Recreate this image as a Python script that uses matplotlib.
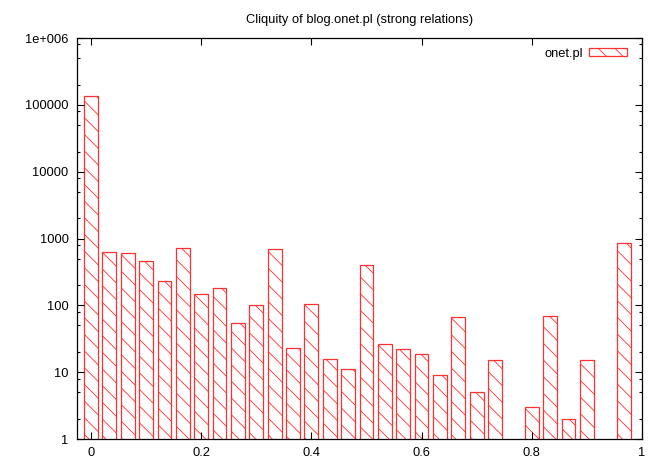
import matplotlib
matplotlib.use("Agg")
import matplotlib.pyplot as plt
import numpy as np

# cliquity bins (step 1/30) and counts, 0 = empty bin
bins = np.arange(30) / 30.0
counts = [135000, 620, 610, 455, 230, 715, 148, 182, 54, 100,
          700, 23, 105, 16, 11, 405, 26, 22, 19, 9,
          66, 5, 15, 0, 3, 70, 2, 15, 0, 870]
ytick_vals = [1, 10, 100, 1000, 10000, 100000, 1000000]
ytick_labels = ["1", "10", "100", "1000", "10000", "100000", "1e+006"]
xtick_vals = [0, 0.2, 0.4, 0.6, 0.8, 1.0]
xtick_labels = ["0", "0.2", "0.4", "0.6", "0.8", "1"]

plt.rcParams["hatch.linewidth"] = 0.6
plt.rcParams["font.family"] = "Liberation Sans"
fs = 9.3

fig = plt.figure(figsize=(6.64, 4.65), dpi=100)
ax = fig.add_axes([77 / 664, 1 - 439 / 465, 565 / 664, 401 / 465])

heights = np.array(counts, dtype=float)
mask = heights > 0
ax.bar(bins[mask], heights[mask], width=0.025, bottom=0, color="none",
       edgecolor="#ff3030", linewidth=0.9, hatch="\\\\", label="onet.pl")

ax.set_yscale("log")
ax.set_ylim(1, 1e6)
ax.set_xlim(-0.0253, 1.0)
ax.set_yticks(ytick_vals)
ax.set_yticklabels(ytick_labels)
ax.set_xticks(xtick_vals)
ax.set_xticklabels(xtick_labels)
ax.yaxis.set_minor_locator(matplotlib.ticker.LogLocator(base=10, subs=(2, 5, 8)))
ax.yaxis.set_minor_formatter(matplotlib.ticker.NullFormatter())
ax.tick_params(which="both", direction="in", top=True, right=True, labelsize=fs)
ax.tick_params(which="major", length=5, width=0.8, pad=6)
ax.tick_params(which="minor", length=2.5, width=0.8)
for s in ax.spines.values():
    s.set_linewidth(0.9)

ax.set_title("Cliquity of blog.onet.pl (strong relations)", fontsize=fs, pad=10.8)
leg = ax.legend(loc="upper right", bbox_to_anchor=(0.9735, 0.976), frameon=False,
                fontsize=fs, markerfirst=False, handlelength=2.95, handleheight=0.47,
                handletextpad=0.46, borderpad=0, borderaxespad=0)

fig.savefig("out.png", dpi=100)
